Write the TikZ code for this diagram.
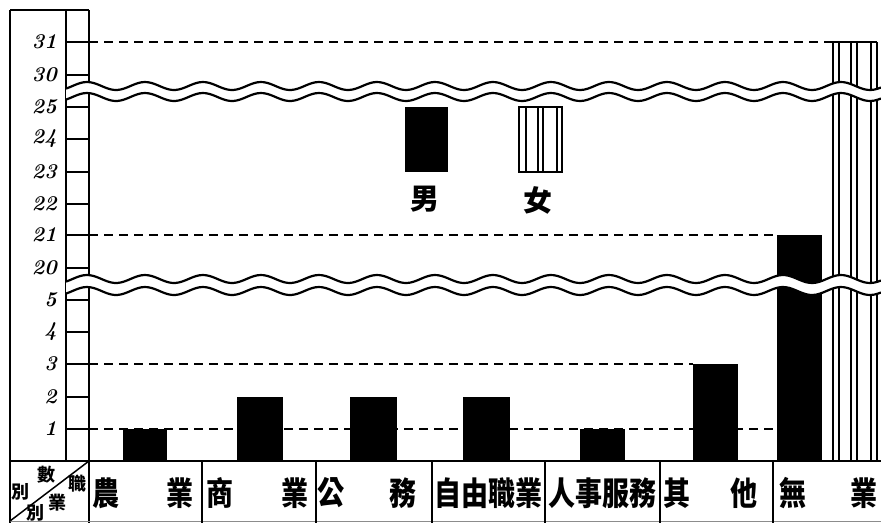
\documentclass[tikz,border=0pt]{standalone}
\usepackage{fontspec}
\newfontfamily\cjk{Noto Sans CJK TC}
\newcommand{\talltext}[1]{\scalebox{1}[1.2]{#1}}
\tikzset{
  frameline/.style={line width=1.8pt, black},
  tickline/.style={line width=1.5pt, black},
  dashline/.style={line width=1.4pt, black, dash pattern=on 9pt off 6pt},
  waveline/.style={line width=2.2pt, black},
  barfill/.style={fill=black},
  stripe/.style={line width=1.2pt, black},
  numlabel/.style={font=\fontsize{21}{21}\selectfont\bfseries\itshape, anchor=east, inner sep=0pt},
  collabel/.style={font=\cjk\bfseries\fontsize{27}{27}\selectfont, inner sep=0pt},
  hdrlabel/.style={font=\cjk\bfseries\fontsize{18}{18}\selectfont, inner sep=0pt},
  legendlabel/.style={font=\cjk\bfseries\fontsize{29}{29}\selectfont, inner sep=0pt}
}
\begin{document}
\begin{tikzpicture}[x=1pt,y=-1pt]
\useasboundingbox (0,0) rectangle (881,523);
\fill[white] (0,0) rectangle (881,523);

% dashed reference lines
\draw[dashline] (89,42) -- (833,42);
\draw[dashline] (89,235) -- (777,235);
\draw[dashline] (89,364) -- (693,364);
\draw[dashline] (89,429) -- (777,429);

% bars (male)
\fill[barfill] (123,461) rectangle (167,429);
\fill[barfill] (237,461) rectangle (283,397);
\fill[barfill] (350,461) rectangle (397,397);
\fill[barfill] (463,461) rectangle (510,397);
\fill[barfill] (580,461) rectangle (625,429);
\fill[barfill] (693,461) rectangle (738,364);
\fill[barfill] (777,461) rectangle (822,235);

% female bar (striped)
\draw[stripe] (833,42) -- (877,42);
\foreach \sx in {833,839,851,857,871,877} {
  \draw[stripe] (\sx,42) -- (\sx,461);
}

% legend
\fill[barfill] (405,107) rectangle (448,172);
\draw[stripe] (519,107) rectangle (562,172);
\foreach \sx in {526,538,543,557} {
  \draw[stripe] (\sx,107) -- (\sx,172);
}
\node[legendlabel] (male) at (425,199) {男};
\node[legendlabel] (female) at (538,200) {女};

% axis frame
\draw[frameline] (10,10) -- (10,523);
\draw[frameline] (10,10) -- (89,10);
\draw[frameline] (66,10) -- (66,461);
\draw[frameline] (89,10) -- (89,523);

% ticks and labels
\foreach \ty/\tl in {42/31,75/30,107/25,139/24,172/23,204/22,235/21,268/20,300/5,332/4,364/3,397/2,429/1} {
  \draw[tickline] (66,\ty) -- (89,\ty);
  \node[numlabel] (n\tl) at (57,\ty) {\tl};
}

% wave breaks
\foreach \ua/\la in {86/97,279/291} {
  \fill[white] plot[domain=66:881,samples=240,smooth] (\x,{\ua-4*cos(6.2069*(\x-145))})
     -- plot[domain=881:66,samples=240,smooth] (\x,{\la-4*cos(6.2069*(\x-145))}) -- cycle;
  \draw[waveline] plot[domain=66:881,samples=240,smooth] (\x,{\ua-4*cos(6.2069*(\x-145))});
  \draw[waveline] plot[domain=66:881,samples=240,smooth] (\x,{\la-4*cos(6.2069*(\x-145))});
}

% table
\draw[frameline] (10,461) -- (881,461);
\draw[line width=0.6pt, black!45] (10,521) -- (881,521);
\foreach \cx in {202,316,432,545,660,773} {
  \draw[tickline] (\cx,461) -- (\cx,523);
}
\draw[tickline] (10,521) -- (89,461);

\node[hdrlabel] (h1) at (46,475) {數};
\node[hdrlabel] (h2) at (77,484) {職};
\node[hdrlabel] (h3) at (21,492) {別};
\node[hdrlabel] (h4) at (57,503) {業};
\node[hdrlabel] (h5) at (36,513) {別};

\node[collabel] (c1a) at (106,493) {\talltext{農}};
\node[collabel] (c1b) at (180,493) {\talltext{業}};
\node[collabel] (c2a) at (220,493) {\talltext{商}};
\node[collabel] (c2b) at (295,493) {\talltext{業}};
\node[collabel] (c3a) at (331,493) {\talltext{公}};
\node[collabel] (c3b) at (403,493) {\talltext{務}};
\node[collabel] (c4) at (488,493) {\talltext{自由職業}};
\node[collabel] (c5) at (602,493) {\talltext{人事服務}};
\node[collabel] (c6a) at (677,493) {\talltext{其}};
\node[collabel] (c6b) at (744,493) {\talltext{他}};
\node[collabel] (c7a) at (793,493) {\talltext{無}};
\node[collabel] (c7b) at (864,493) {\talltext{業}};
\end{tikzpicture}
\end{document}
